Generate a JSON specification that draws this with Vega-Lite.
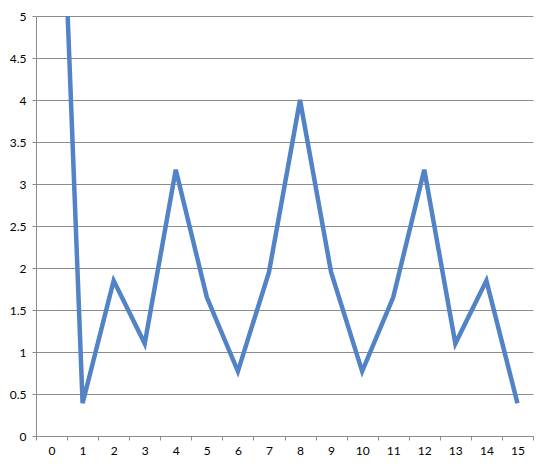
{
  "$schema": "https://vega.github.io/schema/vega-lite/v6.json",
  "width": 497,
  "height": 420,
  "autosize": "none",
  "padding": {"left": 36, "top": 16, "right": 17, "bottom": 32},
  "background": "white",
  "config": {"view": {"stroke": null}, "font": "Lato"},
  "data": {"values": [
    {"x": 0, "y": 10},
    {"x": 1, "y": 0.39},
    {"x": 2, "y": 1.85},
    {"x": 3, "y": 1.1},
    {"x": 4, "y": 3.17},
    {"x": 5, "y": 1.65},
    {"x": 6, "y": 0.77},
    {"x": 7, "y": 1.95},
    {"x": 8, "y": 4.0},
    {"x": 9, "y": 1.95},
    {"x": 10, "y": 0.77},
    {"x": 11, "y": 1.65},
    {"x": 12, "y": 3.17},
    {"x": 13, "y": 1.1},
    {"x": 14, "y": 1.85},
    {"x": 15, "y": 0.39}
  ]},
  "mark": {"type": "line", "clip": true, "color": "#5283C6", "strokeWidth": 4.5, "strokeJoin": "miter"},
  "encoding": {
    "x": {
      "field": "x", "type": "quantitative",
      "scale": {"domain": [-0.5, 15.5], "nice": false, "zero": false},
      "axis": {
        "title": null,
        "values": [-0.5, 0.5, 1.5, 2.5, 3.5, 4.5, 5.5, 6.5, 7.5, 8.5, 9.5, 10.5, 11.5, 12.5, 13.5, 14.5, 15.5],
        "labelExpr": "datum.value > 15 ? '' : format(datum.value + 0.5, 'd')",
        "labelOffset": 15.5,
        "labelOverlap": false,
        "labelBound": false,
        "labelFlush": false,
        "labelFontSize": 12,
        "labelColor": "#000",
        "labelPadding": 5,
        "grid": false,
        "domainColor": "#8c8c8c",
        "domainWidth": 1,
        "tickColor": "#8c8c8c",
        "tickSize": 4
      }
    },
    "y": {
      "field": "y", "type": "quantitative",
      "scale": {"domain": [0, 5], "nice": false},
      "axis": {
        "title": null,
        "values": [0, 0.5, 1, 1.5, 2, 2.5, 3, 3.5, 4, 4.5, 5],
        "format": "~g",
        "labelFontSize": 12,
        "labelColor": "#000",
        "labelPadding": 6,
        "grid": true,
        "gridColor": "#8c8c8c",
        "gridWidth": 1,
        "domainColor": "#8c8c8c",
        "tickColor": "#8c8c8c",
        "tickSize": 4
      }
    }
  }
}
